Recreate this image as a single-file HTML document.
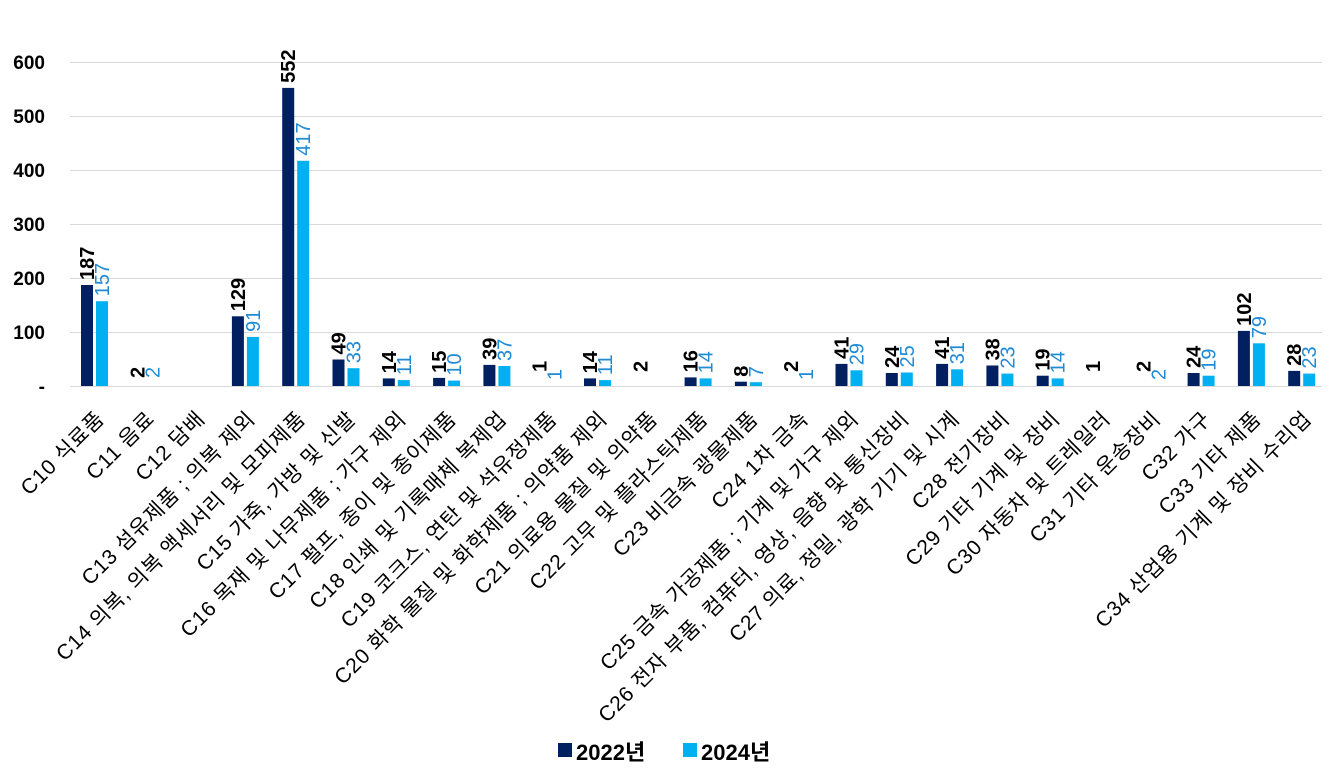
<!DOCTYPE html>
<html><head><meta charset="utf-8"><style>
html,body{margin:0;padding:0;background:#fff;}
svg{display:block;font-family:"Liberation Sans","Noto Sans CJK KR",sans-serif;}
.a{fill:#002060}.b{fill:#00b0f0}
.la{font-size:20px;font-weight:bold;fill:#000}
.lb{font-size:20px;fill:#1f8ad6}
.c{font-size:21px;fill:#000;text-anchor:end;letter-spacing:0.8px}
</style></head><body>
<svg width="1342" height="772" xmlns="http://www.w3.org/2000/svg">
<g stroke="#d9d9d9" stroke-width="1">
<line x1="70" x2="1322" y1="62.5" y2="62.5"/>
<line x1="70" x2="1322" y1="116.5" y2="116.5"/>
<line x1="70" x2="1322" y1="170.5" y2="170.5"/>
<line x1="70" x2="1322" y1="224.5" y2="224.5"/>
<line x1="70" x2="1322" y1="278.5" y2="278.5"/>
<line x1="70" x2="1322" y1="332.5" y2="332.5"/>
<line x1="70" x2="1322" y1="386.5" y2="386.5"/>
</g>
<g font-size="19" font-weight="bold" text-anchor="end" fill="#000">
<text x="45" y="69">600</text><text x="45" y="123">500</text><text x="45" y="177">400</text>
<text x="45" y="231">300</text><text x="45" y="285">200</text><text x="45" y="339">100</text>
<text x="45" y="393">-</text>
</g>

<g transform="translate(94.5,0)">
<rect class="a" x="-13.5" y="285" width="12" height="101"/><rect class="b" x="1.5" y="301.2" width="12" height="84.8"/>
<text class="la" transform="translate(-0.5,280) rotate(-90)">187</text><text class="lb" transform="translate(14.5,296.2) rotate(-90)">157</text>
<text class="c" transform="translate(11,420) rotate(-45)">C10 식료품</text></g>

<g transform="translate(144.8,0)">
<text class="la" transform="translate(-0.5,378) rotate(-90)">2</text><text class="lb" transform="translate(14.5,378) rotate(-90)">2</text>
<text class="c" transform="translate(11,420) rotate(-45)">C11 음료</text></g>

<g transform="translate(195.1,0)">
<text class="c" transform="translate(11,420) rotate(-45)">C12 담배</text></g>

<g transform="translate(245.4,0)">
<rect class="a" x="-13.5" y="316.3" width="12" height="69.7"/><rect class="b" x="1.5" y="336.9" width="12" height="49.1"/>
<text class="la" transform="translate(-0.5,311.3) rotate(-90)">129</text><text class="lb" transform="translate(14.5,331.9) rotate(-90)">91</text>
<text class="c" transform="translate(11,420) rotate(-45)">C13 섬유제품 ; 의복 제외</text></g>

<g transform="translate(295.7,0)">
<rect class="a" x="-13.5" y="87.9" width="12" height="298.1"/><rect class="b" x="1.5" y="160.8" width="12" height="225.2"/>
<text class="la" transform="translate(-0.5,82.9) rotate(-90)">552</text><text class="lb" transform="translate(14.5,155.8) rotate(-90)">417</text>
<text class="c" transform="translate(11,420) rotate(-45)">C14 의복, 의복 액세서리 및 모피제품</text></g>

<g transform="translate(346,0)">
<rect class="a" x="-13.5" y="359.5" width="12" height="26.5"/><rect class="b" x="1.5" y="368.2" width="12" height="17.8"/>
<text class="la" transform="translate(-0.5,354.5) rotate(-90)">49</text><text class="lb" transform="translate(14.5,363.2) rotate(-90)">33</text>
<text class="c" transform="translate(11,420) rotate(-45)">C15 가죽, 가방 및 신발</text></g>

<g transform="translate(396.3,0)">
<rect class="a" x="-13.5" y="378.4" width="12" height="7.6"/><rect class="b" x="1.5" y="380.1" width="12" height="5.9"/>
<text class="la" transform="translate(-0.5,373.4) rotate(-90)">14</text><text class="lb" transform="translate(14.5,375.1) rotate(-90)">11</text>
<text class="c" transform="translate(11,420) rotate(-45)">C16 목재 및 나무제품 ; 가구 제외</text></g>

<g transform="translate(446.6,0)">
<rect class="a" x="-13.5" y="377.9" width="12" height="8.1"/><rect class="b" x="1.5" y="380.6" width="12" height="5.4"/>
<text class="la" transform="translate(-0.5,372.9) rotate(-90)">15</text><text class="lb" transform="translate(14.5,375.6) rotate(-90)">10</text>
<text class="c" transform="translate(11,420) rotate(-45)">C17 펄프, 종이 및 종이제품</text></g>

<g transform="translate(496.9,0)">
<rect class="a" x="-13.5" y="364.9" width="12" height="21.1"/><rect class="b" x="1.5" y="366" width="12" height="20"/>
<text class="la" transform="translate(-0.5,359.9) rotate(-90)">39</text><text class="lb" transform="translate(14.5,361) rotate(-90)">37</text>
<text class="c" transform="translate(11,420) rotate(-45)">C18 인쇄 및 기록매체 복제업</text></g>

<g transform="translate(547.2,0)">
<text class="la" transform="translate(-0.5,372) rotate(-90)">1</text><text class="lb" transform="translate(14.5,380) rotate(-90)">1</text>
<text class="c" transform="translate(11,420) rotate(-45)">C19 코크스, 연탄 및 석유정제품</text></g>

<g transform="translate(597.5,0)">
<rect class="a" x="-13.5" y="378.4" width="12" height="7.6"/><rect class="b" x="1.5" y="380.1" width="12" height="5.9"/>
<text class="la" transform="translate(-0.5,373.4) rotate(-90)">14</text><text class="lb" transform="translate(14.5,375.1) rotate(-90)">11</text>
<text class="c" transform="translate(11,420) rotate(-45)">C20 화학 물질 및 화학제품 ; 의약품 제외</text></g>

<g transform="translate(647.8,0)">
<text class="la" transform="translate(-0.5,372) rotate(-90)">2</text>
<text class="c" transform="translate(11,420) rotate(-45)">C21 의료용 물질 및 의약품</text></g>

<g transform="translate(698.1,0)">
<rect class="a" x="-13.5" y="377.4" width="12" height="8.6"/><rect class="b" x="1.5" y="378.4" width="12" height="7.6"/>
<text class="la" transform="translate(-0.5,372.4) rotate(-90)">16</text><text class="lb" transform="translate(14.5,373.4) rotate(-90)">14</text>
<text class="c" transform="translate(11,420) rotate(-45)">C22 고무 및 플라스틱제품</text></g>

<g transform="translate(748.4,0)">
<rect class="a" x="-13.5" y="381.7" width="12" height="4.3"/><rect class="b" x="1.5" y="382.2" width="12" height="3.8"/>
<text class="la" transform="translate(-0.5,376.7) rotate(-90)">8</text><text class="lb" transform="translate(14.5,377.2) rotate(-90)">7</text>
<text class="c" transform="translate(11,420) rotate(-45)">C23 비금속 광물제품</text></g>

<g transform="translate(798.7,0)">
<text class="la" transform="translate(-0.5,372) rotate(-90)">2</text><text class="lb" transform="translate(14.5,380) rotate(-90)">1</text>
<text class="c" transform="translate(11,420) rotate(-45)">C24 1차 금속</text></g>

<g transform="translate(849,0)">
<rect class="a" x="-13.5" y="363.9" width="12" height="22.1"/><rect class="b" x="1.5" y="370.3" width="12" height="15.7"/>
<text class="la" transform="translate(-0.5,358.9) rotate(-90)">41</text><text class="lb" transform="translate(14.5,365.3) rotate(-90)">29</text>
<text class="c" transform="translate(11,420) rotate(-45)">C25 금속 가공제품 ; 기계 및 가구 제외</text></g>

<g transform="translate(899.3,0)">
<rect class="a" x="-13.5" y="373" width="12" height="13"/><rect class="b" x="1.5" y="372.5" width="12" height="13.5"/>
<text class="la" transform="translate(-0.5,368) rotate(-90)">24</text><text class="lb" transform="translate(14.5,367.5) rotate(-90)">25</text>
<text class="c" transform="translate(11,420) rotate(-45)">C26 전자 부품, 컴퓨터, 영상, 음향 및 통신장비</text></g>

<g transform="translate(949.6,0)">
<rect class="a" x="-13.5" y="363.9" width="12" height="22.1"/><rect class="b" x="1.5" y="369.3" width="12" height="16.7"/>
<text class="la" transform="translate(-0.5,358.9) rotate(-90)">41</text><text class="lb" transform="translate(14.5,364.3) rotate(-90)">31</text>
<text class="c" transform="translate(11,420) rotate(-45)">C27 의료, 정밀, 광학 기기 및 시계</text></g>

<g transform="translate(999.9,0)">
<rect class="a" x="-13.5" y="365.5" width="12" height="20.5"/><rect class="b" x="1.5" y="373.6" width="12" height="12.4"/>
<text class="la" transform="translate(-0.5,360.5) rotate(-90)">38</text><text class="lb" transform="translate(14.5,368.6) rotate(-90)">23</text>
<text class="c" transform="translate(11,420) rotate(-45)">C28 전기장비</text></g>

<g transform="translate(1050.2,0)">
<rect class="a" x="-13.5" y="375.7" width="12" height="10.3"/><rect class="b" x="1.5" y="378.4" width="12" height="7.6"/>
<text class="la" transform="translate(-0.5,370.7) rotate(-90)">19</text><text class="lb" transform="translate(14.5,373.4) rotate(-90)">14</text>
<text class="c" transform="translate(11,420) rotate(-45)">C29 기타 기계 및 장비</text></g>

<g transform="translate(1100.5,0)">
<text class="la" transform="translate(-0.5,372) rotate(-90)">1</text>
<text class="c" transform="translate(11,420) rotate(-45)">C30 자동차 및 트레일러</text></g>

<g transform="translate(1150.8,0)">
<text class="la" transform="translate(-0.5,372) rotate(-90)">2</text><text class="lb" transform="translate(14.5,380) rotate(-90)">2</text>
<text class="c" transform="translate(11,420) rotate(-45)">C31 기타 운송장비</text></g>

<g transform="translate(1201.1,0)">
<rect class="a" x="-13.5" y="373" width="12" height="13"/><rect class="b" x="1.5" y="375.7" width="12" height="10.3"/>
<text class="la" transform="translate(-0.5,368) rotate(-90)">24</text><text class="lb" transform="translate(14.5,370.7) rotate(-90)">19</text>
<text class="c" transform="translate(11,420) rotate(-45)">C32 가구</text></g>

<g transform="translate(1251.4,0)">
<rect class="a" x="-13.5" y="330.9" width="12" height="55.1"/><rect class="b" x="1.5" y="343.3" width="12" height="42.7"/>
<text class="la" transform="translate(-0.5,325.9) rotate(-90)">102</text><text class="lb" transform="translate(14.5,338.3) rotate(-90)">79</text>
<text class="c" transform="translate(11,420) rotate(-45)">C33 기타 제품</text></g>

<g transform="translate(1301.7,0)">
<rect class="a" x="-13.5" y="370.9" width="12" height="15.1"/><rect class="b" x="1.5" y="373.6" width="12" height="12.4"/>
<text class="la" transform="translate(-0.5,365.9) rotate(-90)">28</text><text class="lb" transform="translate(14.5,368.6) rotate(-90)">23</text>
<text class="c" transform="translate(11,420) rotate(-45)">C34 산업용 기계 및 장비 수리업</text></g>

<g font-size="22" font-weight="bold">
<rect x="558" y="743" width="14" height="14" fill="#002060"/>
<text x="576" y="760">2022년</text>
<rect x="683" y="743" width="14" height="14" fill="#00b0f0"/>
<text x="701" y="760">2024년</text>
</g>
</svg>
</body></html>
